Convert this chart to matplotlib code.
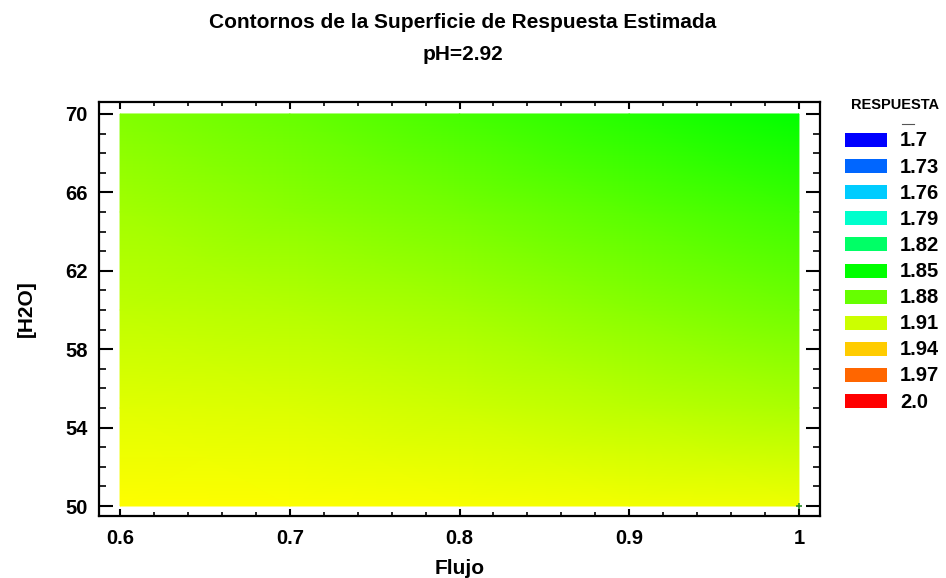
import numpy as np
import matplotlib
matplotlib.use("Agg")
import matplotlib.pyplot as plt
from matplotlib.colors import LinearSegmentedColormap, hsv_to_rgb
from matplotlib.patches import Rectangle
from matplotlib.lines import Line2D

plt.rcParams['font.family'] = ['Liberation Sans', 'DejaVu Sans']
plt.rcParams['font.weight'] = 'bold'

# estimated response, rows = [H2O], cols = Flujo
flujo = [0.6, 0.7, 0.8, 0.9, 1.0]
h2o = [50, 55, 60, 65, 70]
respuesta = [
    [1.925, 1.924, 1.923, 1.921, 1.920],
    [1.916, 1.914, 1.910, 1.905, 1.900],
    [1.906, 1.903, 1.898, 1.890, 1.883],
    [1.898, 1.891, 1.884, 1.876, 1.868],
    [1.888, 1.880, 1.870, 1.860, 1.850],
]
niveles = [1.7, 1.73, 1.76, 1.79, 1.82, 1.85, 1.88, 1.91, 1.94, 1.97, 2.0]
etiquetas = ['1.7', '1.73', '1.76', '1.79', '1.82', '1.85', '1.88', '1.91', '1.94', '1.97', '2.0']
colores = ['#0000ff', '#0066ff', '#00ccff', '#00ffcc', '#00ff66', '#00ff00',
           '#66ff00', '#ccff00', '#ffcc00', '#ff6600', '#ff0000']
xticks = [0.6, 0.7, 0.8, 0.9, 1.0]
xtick_labels = ['0.6', '0.7', '0.8', '0.9', '1']
yticks = [50, 54, 58, 62, 66, 70]

# hue runs from blue (240) down to red (0) across the level range
hues = np.linspace(240, 0, 241) / 360.0
hsv = np.stack([hues, np.ones_like(hues), np.ones_like(hues)], axis=1)
cmap = LinearSegmentedColormap.from_list('resp', hsv_to_rgb(hsv), N=512)

fig = plt.figure(figsize=(9.46, 5.78), dpi=100)
ax = fig.add_axes([99 / 946, 62 / 578, 721 / 946, 414 / 578])

X, Y = np.meshgrid(flujo, h2o)
ax.pcolormesh(X, Y, np.array(respuesta), cmap=cmap, vmin=niveles[0], vmax=niveles[-1],
              shading='gouraud', zorder=1)
ax.plot([1.0], [50], marker='+', color='#2a8a2a', markersize=5, mew=1.2, zorder=3)

ax.set_xlim(0.5876, 1.0124)
ax.set_ylim(49.49, 70.61)
ax.set_xticks(xticks, xtick_labels)
ax.set_xticks(np.arange(0.6, 1.001, 0.02), minor=True)
ax.set_yticks(yticks, [str(v) for v in yticks])
ax.set_yticks(np.arange(50, 70.5, 1), minor=True)
ax.tick_params(axis='x', which='major', direction='in', length=5, width=1.5,
               top=True, labelsize=14.5, pad=9)
ax.tick_params(axis='x', which='minor', direction='in', length=3, width=1.2, top=True)
ax.tick_params(axis='y', which='major', direction='in', length=10, width=1.5,
               right=True, labelsize=14.5, pad=8)
ax.tick_params(axis='y', which='minor', direction='in', length=5, width=1.2, right=True)
for s in ax.spines.values():
    s.set_linewidth(1.6)

ax.set_xlabel('Flujo', fontsize=15, fontweight='bold', labelpad=8)
ax.set_ylabel('[H2O]', fontsize=15, fontweight='bold', labelpad=21)

fig.text(463 / 946, 1 - 22 / 578, 'Contornos de la Superficie de Respuesta Estimada',
         ha='center', va='center', fontsize=15, fontweight='bold')
fig.text(463 / 946, 1 - 54 / 578, 'pH=2.92', ha='center', va='center',
         fontsize=15, fontweight='bold')

# legend
fig.text(895 / 946, 1 - 105 / 578, 'RESPUESTA', ha='center', va='center',
         fontsize=10.5, fontweight='bold')
fig.lines.append(Line2D([902 / 946, 914 / 946], [1 - 124 / 578, 1 - 124 / 578],
                        transform=fig.transFigure, color='#555555', lw=0.8))
for i, (c, t) in enumerate(zip(colores, etiquetas)):
    yc = 140 + i * 26.1
    fig.patches.append(Rectangle((845 / 946, 1 - (yc + 7) / 578), 42 / 946, 14 / 578,
                                 transform=fig.transFigure, facecolor=c, edgecolor='none'))
    fig.text(900 / 946, 1 - (yc + 1) / 578, t, ha='left', va='center',
             fontsize=14.5, fontweight='bold')

fig.savefig('out.png', dpi=100)
